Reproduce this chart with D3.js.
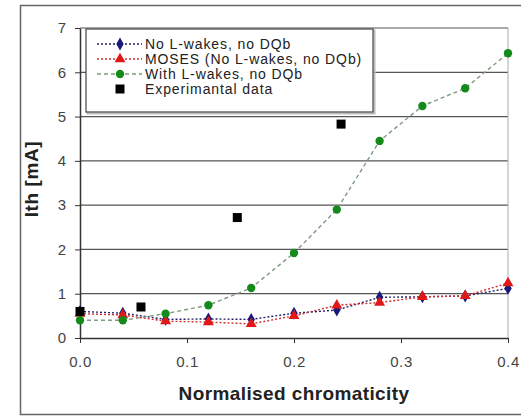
<!DOCTYPE html>
<html>
<head>
<meta charset="utf-8">
<script src="https://cdn.jsdelivr.net/npm/d3@7"></script>
<style>
body { margin: 0; background: #fff; }
text { font-family: "Liberation Sans", Arial, sans-serif; }
</style>
</head>
<body>
<div id="chart"></div>
<script>
var chroma = [0, 0.04, 0.08, 0.12, 0.16, 0.2, 0.24, 0.28, 0.32, 0.36, 0.4];
var noWakes = [0.6, 0.56, 0.42, 0.43, 0.42, 0.56, 0.63, 0.92, 0.93, 0.95, 1.12];
var moses = [0.55, 0.52, 0.38, 0.36, 0.32, 0.5, 0.74, 0.8, 0.93, 0.95, 1.24];
var withWakes = [0.4, 0.4, 0.55, 0.74, 1.13, 1.92, 2.9, 4.45, 5.24, 5.64, 6.43];
var expX = [0, 0.057, 0.147, 0.244];
var expY = [0.6, 0.7, 2.72, 4.83];
var xTicks = [0, 0.1, 0.2, 0.3, 0.4];
var yTicks = [0, 1, 2, 3, 4, 5, 6, 7];
var legendLabels = ["No L-wakes, no DQb", "MOSES (No L-wakes, no DQb)", "With L-wakes, no DQb", "Experimantal data"];

var W = 521, H = 416;
var margin = {top: 28, right: 13, bottom: 78, left: 80},
width = W - margin.left - margin.right,
height = H - margin.top - margin.bottom;

var x = d3.scaleLinear().domain([0, 0.4]).range([0, width]);
var y = d3.scaleLinear().domain([0, 7]).range([height, 0]);

var root = d3.select("#chart").append("svg")
.attr("width", W)
.attr("height", H);

// outer frame
root.append("rect")
.attr("x", 20.5).attr("y", 5.5)
.attr("width", 520).attr("height", 409)
.attr("fill", "none").attr("stroke", "#666").attr("stroke-width", 1.5);

var svg = root.append("g")
.attr("transform", "translate(" + margin.left + "," + margin.top + ")");

// gridlines
svg.selectAll(".grid").data(yTicks.filter(function(d) { return d > 0; }))
.enter().append("line")
.attr("x1", 0).attr("x2", width)
.attr("y1", function(d) { return y(d); })
.attr("y2", function(d) { return y(d); })
.attr("stroke", "#555").attr("stroke-width", 1.2);

// right border
svg.append("line")
.attr("x1", width).attr("x2", width).attr("y1", 0).attr("y2", height)
.attr("stroke", "#aaa");

var xAxis = d3.axisBottom(x).tickValues(xTicks).tickFormat(d3.format(".1f")).tickSize(5).tickSizeOuter(0);
var yAxis = d3.axisLeft(y).tickValues(yTicks).tickFormat(d3.format("d")).tickSize(5).tickSizeOuter(0);

var gx = svg.append("g")
.attr("transform", "translate(0," + height + ")")
.call(xAxis);
gx.selectAll("line").attr("stroke", "#333");
gx.select(".domain").attr("stroke", "#333").attr("stroke-width", 1.5);
gx.selectAll("text").attr("font-size", 15).attr("fill", "#444")
.attr("letter-spacing", 0.6).attr("y", 29).attr("dy", 0);

var gy = svg.append("g").call(yAxis);
gy.selectAll("line").attr("stroke", "#333");
gy.select(".domain").attr("stroke", "#333").attr("stroke-width", 1.5);
gy.selectAll("text").attr("font-size", 15).attr("fill", "#444").attr("x", -14);

svg.append("text")
.attr("x", width / 2).attr("y", height + 62)
.attr("text-anchor", "middle")
.attr("font-size", 19).attr("font-weight", "bold").attr("fill", "#222")
.attr("letter-spacing", 0.4)
.text("Normalised chromaticity");

svg.append("text")
.attr("transform", "translate(-42," + (height / 2 - 4) + ") rotate(-90)")
.attr("text-anchor", "middle")
.attr("font-size", 19).attr("font-weight", "bold").attr("fill", "#222")
.attr("letter-spacing", 0.6)
.text("Ith [mA]");

var line = d3.line()
.x(function(d) { return x(d[0]); })
.y(function(d) { return y(d[1]); });

var series = [
  {vals: noWakes, lineColor: "#22226e", dash: "2,2", marker: "diamond", fill: "#1a1a7a"},
  {vals: moses, lineColor: "#d03030", dash: "2,2", marker: "triangle", fill: "#e01818"},
  {vals: withWakes, lineColor: "#7f9a7f", dash: "4,3", marker: "circle", fill: "#138a1a"}
];

var sym = {
  diamond: d3.symbol().type(d3.symbolDiamond).size(48),
  triangle: d3.symbol().type(d3.symbolTriangle).size(52),
  circle: d3.symbol().type(d3.symbolCircle).size(55)
};

series.forEach(function(s) {
  var pts = chroma.map(function(c, i) { return [c, s.vals[i]]; });
  svg.append("path")
  .datum(pts)
  .attr("d", line)
  .attr("fill", "none")
  .attr("stroke", s.lineColor)
  .attr("stroke-width", 1.4)
  .attr("stroke-dasharray", s.dash);
});

series.forEach(function(s) {
  svg.selectAll(".m-" + s.marker)
  .data(chroma.map(function(c, i) { return [c, s.vals[i]]; }))
  .enter().append("path")
  .attr("class", "m-" + s.marker)
  .attr("transform", function(d) { return "translate(" + x(d[0]) + "," + y(d[1]) + ")"; })
  .attr("d", sym[s.marker])
  .attr("fill", s.fill);
});

svg.selectAll(".exp")
.data(expX.map(function(c, i) { return [c, expY[i]]; }))
.enter().append("rect")
.attr("class", "exp")
.attr("x", function(d) { return x(d[0]) - 4.5; })
.attr("y", function(d) { return y(d[1]) - 4.5; })
.attr("width", 9).attr("height", 9)
.attr("fill", "#000");

// legend
var lg = svg.append("g").attr("transform", "translate(6,1)");
lg.append("rect")
.attr("x", 1.5).attr("y", 1.5).attr("width", 287).attr("height", 83)
.attr("fill", "none").attr("stroke", "#bbb").attr("stroke-width", 2);
lg.append("rect")
.attr("x", 0).attr("y", 0).attr("width", 287).attr("height", 83)
.attr("fill", "#fff").attr("stroke", "#444").attr("stroke-width", 1.2);

var rows = [15, 30, 45, 60];
legendLabels.forEach(function(lbl, i) {
  var ry = rows[i];
  if (i < 3) {
    var s = series[i];
    lg.append("line")
    .attr("x1", 11).attr("x2", 56).attr("y1", ry).attr("y2", ry)
    .attr("stroke", s.lineColor).attr("stroke-width", 1.3)
    .attr("stroke-dasharray", s.dash);
    lg.append("path")
    .attr("transform", "translate(34," + ry + ")")
    .attr("d", sym[s.marker])
    .attr("fill", s.fill);
  } else {
    lg.append("rect")
    .attr("x", 29.5).attr("y", ry - 4.5).attr("width", 9).attr("height", 9)
    .attr("fill", "#000");
  }
  lg.append("text")
  .attr("x", 59).attr("y", ry + 5)
  .attr("font-size", 14).attr("fill", "#222")
  .attr("letter-spacing", 0.9)
  .text(lbl);
});
</script>
</body>
</html>
